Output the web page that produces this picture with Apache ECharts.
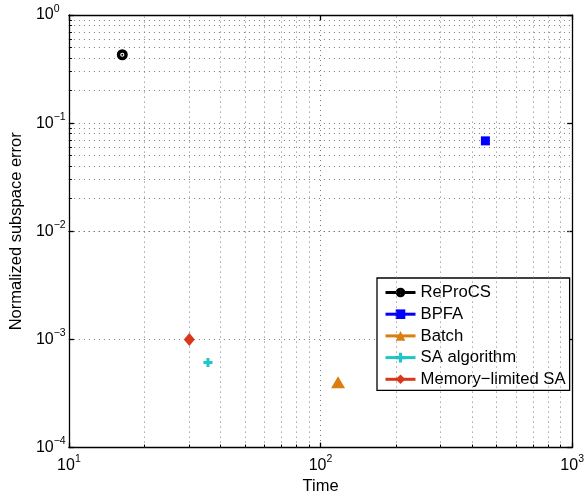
<!DOCTYPE html>
<html>
<head>
<meta charset="utf-8">
<script src="https://cdn.jsdelivr.net/npm/echarts@6/dist/echarts.min.js"></script>
<style>
  html, body { margin: 0; padding: 0; background: #fff; }
  #chart { width: 587px; height: 500px; }
</style>
</head>
<body>
<div id="chart"></div>
<script>
// Methods compared: run time vs. normalized subspace error
const methods = ['ReProCS', 'BPFA', 'Batch', 'SA algorithm', 'Memory\u2212limited SA'];
const timeValues = [16.3, 452, 117.4, 35.7, 30.1];
const errorValues = [0.429, 0.0686, 4.03e-4, 6.13e-4, 1.0e-3];

// Axis decades (log scale) and the minor mantissas between them
const xDecades = [10, 100, 1000];
const yDecades = [1e-4, 1e-3, 1e-2, 1e-1, 1];
const mantissas = [2, 3, 4, 5, 6, 7, 8, 9];

const colors = ['#000000', '#0000FF', '#DB7D0F', '#1FC6C6', '#D9361A'];
const symbols = [
  'path://M0,-5A5,5,0,1,1,0,5A5,5,0,1,1,0,-5ZM0,-1.9A1.9,1.9,0,1,0,0,1.9A1.9,1.9,0,1,0,0,-1.9ZM0,-0.9A0.9,0.9,0,1,1,0,0.9A0.9,0.9,0,1,1,0,-0.9Z',
  'rect',
  'triangle',
  'path://M-1.5,-4.5H1.5V-1.5H4.5V1.5H1.5V4.5H-1.5V1.5H-4.5V-1.5H-1.5Z',
  'diamond'
];
const symbolSizes = [11, 9, [14, 12], 9, [11, 13]];

const FONT = '"Liberation Sans", Arial, Helvetica, sans-serif';
const GRID = { left: 62, right: 14, top: 15, bottom: 45 };
const plotW = 587 - GRID.left - GRID.right;
const plotH = 500 - GRID.top - GRID.bottom;

function minorValues(decades) {
  const out = [];
  for (let i = 0; i < decades.length - 1; i++) {
    mantissas.forEach(m => out.push(m * decades[i]));
  }
  return out;
}
const xMinor = minorValues(xDecades);
const yMinor = minorValues(yDecades);

function powerLabel(v) {
  const e = Math.round(Math.log10(v));
  const s = e < 0 ? '\u2212' + (-e) : String(e);
  return '{b|10}{s|' + s + '}';
}
const labelRich = {
  b: { fontSize: 16, fontFamily: FONT, color: '#000', lineHeight: 23 },
  s: { fontSize: 10.5, fontFamily: FONT, color: '#000', lineHeight: 10, verticalAlign: 'top' }
};

const axisLineStyle = { color: '#000', width: 1.3 };
const gridDots = { type: [1, 4], color: '#7a7a7a', width: 1 };

function logAxis(extra) {
  return Object.assign({
    type: 'log',
    logBase: 10,
    axisLine: { show: true, onZero: false, lineStyle: axisLineStyle },
    axisTick: { show: true, inside: true, length: 5, lineStyle: axisLineStyle },
    minorTick: { show: false },
    splitLine: { show: false },
    axisLabel: { show: false }
  }, extra);
}

const dataSeries = methods.map((name, i) => ({
  name: name,
  type: 'line',
  xAxisIndex: 0,
  yAxisIndex: 0,
  data: [[timeValues[i], errorValues[i]]],
  symbol: symbols[i],
  symbolSize: symbolSizes[i],
  showSymbol: true,
  itemStyle: { color: colors[i], borderWidth: 0 },
  lineStyle: { color: colors[i], width: 3 },
  z: 5
}));

// Minor grid lines at 2..9 of each decade
const minorGridSeries = {
  name: 'minor-grid',
  type: 'line',
  xAxisIndex: 0,
  yAxisIndex: 0,
  data: [],
  z: 1,
  markLine: {
    silent: true,
    symbol: 'none',
    label: { show: false },
    lineStyle: gridDots,
    emphasis: { disabled: true },
    data: xMinor.map(v => ({ xAxis: v })).concat(yMinor.map(v => ({ yAxis: v })))
  }
};

// Short inward minor ticks on all four sides (dash pattern leaves only the ends)
const minorTickSeries = {
  name: 'minor-ticks',
  type: 'line',
  xAxisIndex: 0,
  yAxisIndex: 0,
  data: [],
  z: 2,
  markLine: {
    silent: true,
    symbol: 'none',
    label: { show: false },
    emphasis: { disabled: true },
    data: xMinor.map(v => ({ xAxis: v, lineStyle: { color: '#000', width: 1, type: [3, plotH - 6, 3] } }))
      .concat(yMinor.map(v => ({ yAxis: v, lineStyle: { color: '#000', width: 1, type: [3, plotW - 6, 3] } })))
  }
};

const option = {
  animation: false,
  backgroundColor: '#fff',
  grid: { left: GRID.left, right: GRID.right, top: GRID.top, bottom: GRID.bottom, containLabel: false },
  xAxis: [
    logAxis({
      position: 'bottom',
      min: xDecades[0],
      max: xDecades[xDecades.length - 1],
      splitNumber: 2,
      name: 'Time',
      nameLocation: 'middle',
      nameGap: 26,
      nameTextStyle: { fontSize: 16.5, fontFamily: FONT, color: '#000' },
      splitLine: { show: true, lineStyle: gridDots },
      axisLabel: { show: true, margin: 6, formatter: powerLabel, rich: labelRich }
    }),
    logAxis({
      position: 'top',
      min: xDecades[0],
      max: xDecades[xDecades.length - 1],
      splitNumber: 2
    })
  ],
  yAxis: [
    logAxis({
      position: 'left',
      min: yDecades[0],
      max: yDecades[yDecades.length - 1],
      splitNumber: 4,
      name: 'Normalized subspace error',
      nameLocation: 'middle',
      nameRotate: 90,
      nameGap: 33,
      nameTextStyle: { fontSize: 16.5, fontFamily: FONT, color: '#000' },
      splitLine: { show: true, lineStyle: gridDots },
      axisLabel: { show: true, margin: 33, align: 'left', formatter: powerLabel, rich: labelRich }
    }),
    logAxis({
      position: 'right',
      min: yDecades[0],
      max: yDecades[yDecades.length - 1],
      splitNumber: 4
    })
  ],
  legend: {
    data: methods,
    orient: 'vertical',
    left: 377,
    top: 278,
    padding: [5.5, 4, 2, 7],
    itemWidth: 30,
    itemHeight: 12,
    itemGap: 3.7,
    backgroundColor: '#fff',
    borderColor: '#000',
    borderWidth: 1.3,
    borderRadius: 0,
    selectedMode: false,
    lineStyle: { width: 3 },
    textStyle: { fontSize: 16.7, fontFamily: FONT, color: '#000', lineHeight: 18 }
  },
  series: [minorGridSeries, minorTickSeries].concat(dataSeries)
};

const chart = echarts.init(document.getElementById('chart'), null, { renderer: 'canvas' });
chart.setOption(option);
</script>
</body>
</html>
